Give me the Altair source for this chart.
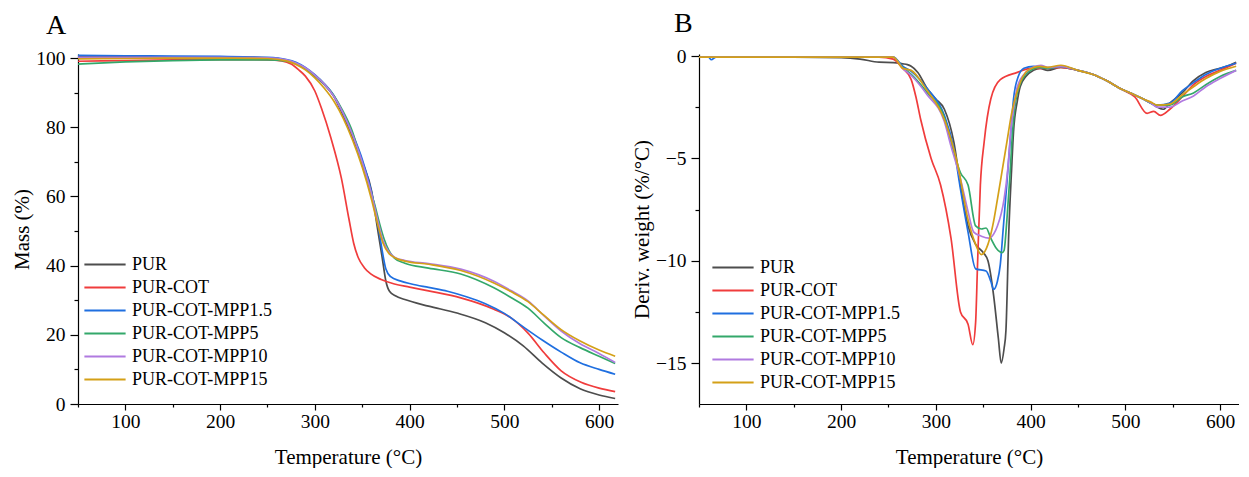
import altair as alt
import pandas as pd

names = ["PUR", "PUR-COT", "PUR-COT-MPP1.5", "PUR-COT-MPP5", "PUR-COT-MPP10", "PUR-COT-MPP15"]
colors = ["#4d4d4d", "#f03c3c", "#1f6fe0", "#33a86a", "#b07ae0", "#d4a017"]

# ---- TGA (panel A): temperature (°C) and mass (%) ----
tga_T_pur = [50,100,150,200,250,270,280,290,300,310,320,330,340,350,360,366,371,375,379,385,395,420,450,480,500,520,540,560,580,600,617]
tga_M_pur = [100.6,100.5,100.4,100.4,100.1,99.4,98.5,97.0,94.8,92.3,89.0,83.3,77.0,70.0,61.5,51.0,42.5,35.5,32.5,31.3,30.2,28.3,26.3,23.5,20.6,16.8,11.8,7.5,4.4,2.6,1.6]

tga_T_cot = [50,100,150,200,250,265,275,283,290,300,307,317,328,336,341,346,352,359,370,384,400,420,454,489,507,525,542,560,581,600,617]
tga_M_cot = [99.1,99.3,99.5,99.6,99.5,99.2,98.3,96.6,94.8,90.5,85.5,76.9,65.3,53.5,46.5,42.2,39.5,37.6,36.0,34.7,33.8,32.7,30.7,27.4,24.9,20.5,14.8,9.6,6.3,4.6,3.6]

tga_T_m15 = [50,100,150,200,250,270,280,290,300,310,320,330,340,350,360,366,371,375,380,390,402,420,440,460,480,500,520,540,560,580,600,617]
tga_M_m15 = [100.8,100.7,100.6,100.5,100.2,99.6,98.8,97.3,95.2,92.6,89.2,84.0,78.0,70.8,61.0,53.0,44.5,39.0,36.8,35.6,34.7,33.7,32.6,31.0,29.0,26.2,22.3,18.5,15.0,11.9,10.0,8.6]

tga_T_m5 = [50,100,150,200,250,270,280,290,300,310,320,330,340,349,356,363,368,373,378,384,395,420,454,489,507,525,542,560,580,600,617]
tga_M_m5 = [98.3,98.9,99.3,99.5,99.5,99.1,98.4,97.0,95.0,92.5,89.2,84.5,78.5,70.0,64.0,57.8,52.5,47.8,44.5,42.2,40.7,39.3,37.6,33.6,30.8,27.7,23.4,19.2,16.3,13.8,11.7]

tga_T_m10 = [50,100,150,200,250,270,280,290,300,310,320,330,340,350,360,366,372,378,385,395,420,454,489,507,525,542,560,580,600,617]
tga_M_m10 = [100.2,100.2,100.2,100.2,100.1,99.5,98.6,97.2,95.1,92.5,89.0,84.0,77.7,70.0,60.5,53.5,47.2,44.0,42.3,41.5,40.6,39.0,35.5,32.8,29.8,25.5,21.1,17.4,14.6,12.0]

tga_T_m15b = [50,100,150,200,250,270,280,290,300,310,320,330,340,350,360,366,372,378,385,395,420,454,489,507,525,542,560,580,600,617]
tga_M_m15b = [99.8,99.9,100.0,100.0,99.9,99.2,98.2,96.6,94.3,91.3,87.6,82.6,76.2,68.5,59.0,52.3,46.5,43.6,42.2,41.3,40.4,38.6,35.0,32.5,29.6,25.6,21.5,18.2,15.6,13.8]

# ---- DTG (panel B): temperature (°C) and derivative weight (%/°C) ----
dtg_T_pur = [50,100,150,200,220,240,255,265,270,274,281,291,300,309,319,326,334,342,350,355,361,366,369,372,374,377,380,382,386,389,395,403,410,418,432,450,466,480,495,510,519,527,534,540,547,560,572,585,600,610,617]
dtg_D_pur = [-0.05,-0.05,-0.05,-0.08,-0.15,-0.3,-0.32,-0.38,-0.42,-0.5,-0.8,-1.6,-2.1,-2.6,-4.2,-6.3,-8.3,-9.2,-9.6,-10.0,-11.7,-13.8,-15.0,-14.3,-13.4,-8.6,-5.5,-3.7,-2.2,-1.5,-1.0,-0.7,-0.6,-0.7,-0.55,-0.7,-0.9,-1.2,-1.6,-1.9,-2.1,-2.3,-2.5,-2.6,-2.3,-1.8,-1.2,-0.8,-0.6,-0.45,-0.3]

dtg_T_cot = [50,100,150,200,240,255,265,274,279,284,295,305,316,326,334,339,342,344,347,351,358,368,386,400,418,432,450,466,480,495,510,523,530,537,547,560,572,585,600,617]
dtg_D_cot = [-0.05,-0.05,-0.05,-0.05,-0.05,-0.15,-0.6,-1.15,-2.0,-3.1,-5.0,-6.3,-8.9,-12.5,-13.1,-14.1,-13.0,-10.2,-6.3,-4.2,-2.1,-1.15,-0.8,-0.6,-0.6,-0.55,-0.7,-0.9,-1.2,-1.6,-2.0,-2.8,-2.7,-2.9,-2.6,-2.0,-1.4,-1.0,-0.7,-0.35]

dtg_T_m15 = [50,60,63,68,100,150,200,240,255,265,274,291,309,319,326,334,342,353,358,361,365,368,371,375,379,382,387,393,403,418,432,450,466,480,495,510,519,527,534,547,560,572,585,600,617]
dtg_D_m15 = [-0.05,-0.05,-0.18,-0.05,-0.05,-0.05,-0.05,-0.05,-0.05,-0.5,-0.75,-1.6,-2.9,-4.5,-6.5,-8.6,-10.4,-10.5,-11.0,-11.4,-11.0,-10.2,-8.5,-6.2,-3.8,-2.1,-1.0,-0.6,-0.5,-0.6,-0.5,-0.7,-0.9,-1.2,-1.6,-1.9,-2.1,-2.3,-2.4,-2.3,-1.7,-1.3,-0.9,-0.6,-0.35]

dtg_T_m5 = [50,100,150,200,240,255,265,274,291,309,316,326,334,342,348,353,358,364,370,372,375,378,381,386,397,410,418,432,450,466,480,495,510,519,527,534,547,560,572,585,600,617]
dtg_D_m5 = [-0.05,-0.05,-0.05,-0.05,-0.05,-0.05,-0.55,-0.9,-1.8,-3.0,-4.2,-5.7,-6.3,-8.3,-8.45,-8.4,-8.9,-9.4,-9.6,-9.5,-8.0,-6.0,-3.7,-1.8,-0.8,-0.55,-0.6,-0.5,-0.7,-0.9,-1.2,-1.6,-1.9,-2.1,-2.3,-2.4,-2.4,-2.0,-1.8,-1.4,-1.0,-0.7]

dtg_T_m10 = [50,100,150,200,240,255,265,274,291,309,316,326,334,340,348,356,361,365,369,372,376,379,383,386,395,411,418,432,450,466,480,495,510,519,527,534,547,560,572,585,600,617]
dtg_D_m10 = [-0.05,-0.05,-0.05,-0.05,-0.05,-0.05,-0.6,-0.95,-1.9,-3.2,-4.4,-6.0,-7.6,-8.6,-8.8,-8.9,-8.7,-8.3,-7.7,-7.0,-5.5,-3.7,-2.3,-1.5,-0.8,-0.45,-0.55,-0.5,-0.7,-0.9,-1.2,-1.6,-1.9,-2.1,-2.3,-2.5,-2.5,-2.2,-1.95,-1.5,-1.1,-0.7]

dtg_T_m15b = [50,100,150,200,240,255,265,274,291,309,323,334,342,348,355,360,365,370,375,380,386,397,410,418,432,450,466,480,495,510,519,527,534,547,560,572,585,600,617]
dtg_D_m15b = [-0.05,-0.05,-0.05,-0.05,-0.05,-0.05,-0.6,-0.7,-1.7,-3.1,-5.3,-8.0,-9.2,-9.7,-9.2,-8.3,-7.0,-5.6,-4.2,-2.8,-1.7,-0.7,-0.5,-0.55,-0.45,-0.7,-0.9,-1.2,-1.6,-1.9,-2.1,-2.25,-2.4,-2.35,-1.9,-1.5,-1.1,-0.75,-0.5]

tga_sets = [(tga_T_pur, tga_M_pur), (tga_T_cot, tga_M_cot), (tga_T_m15, tga_M_m15),
            (tga_T_m5, tga_M_m5), (tga_T_m10, tga_M_m10), (tga_T_m15b, tga_M_m15b)]
dtg_sets = [(dtg_T_pur, dtg_D_pur), (dtg_T_cot, dtg_D_cot), (dtg_T_m15, dtg_D_m15),
            (dtg_T_m5, dtg_D_m5), (dtg_T_m10, dtg_D_m10), (dtg_T_m15b, dtg_D_m15b)]

def build(sets):
    rows = []
    for i, (name, (ts, vs)) in enumerate(zip(names, sets)):
        for t, v in zip(ts, vs):
            rows.append({"series": name, "idx": i, "T": t, "v": v})
    return pd.DataFrame(rows)

df_a = build(tga_sets)
df_b = build(dtg_sets)

FONT = "Liberation Serif"
x_ticks = list(range(50, 601, 50))

def x_axis():
    return alt.Axis(values=x_ticks,
                    labelExpr="datum.value % 100 === 0 ? datum.label : ''",
                    tickSize={"condition": {"test": "datum.value % 100 === 0", "value": 6}, "value": 3},
                    title="Temperature (°C)", titlePadding=16, labelPadding=2)

def legend(lx, ly):
    return alt.Legend(title=None, orient="none", legendX=lx, legendY=ly,
                      symbolType="stroke", symbolSize=1700, symbolStrokeWidth=2,
                      labelFont=FONT, labelFontSize=18, labelColor="black",
                      rowPadding=0, clipHeight=23, labelOffset=5, padding=0)

def panel_title(letter, dx):
    return alt.TitleParams(letter, anchor="start", frame="group", dx=dx, fontSize=28,
                           font=FONT, fontWeight="normal", color="black", offset=8)

left = alt.Chart(df_a).mark_line(strokeWidth=1.7, interpolate="monotone", clip=True).encode(
    x=alt.X("T:Q", scale=alt.Scale(domain=[50, 620], nice=False, zero=False), axis=x_axis()),
    y=alt.Y("v:Q", scale=alt.Scale(domain=[0, 101.2], nice=False),
            axis=alt.Axis(values=list(range(0, 101, 10)),
                          labelExpr="datum.value % 20 === 0 ? datum.label : ''",
                          tickSize={"condition": {"test": "datum.value % 20 === 0", "value": 8}, "value": 4},
                          title="Mass (%)", titlePadding=3, labelPadding=5)),
    color=alt.Color("series:N", scale=alt.Scale(domain=names, range=colors), legend=legend(5, 199)),
    order="idx:Q",
).properties(width=540, height=350, title=panel_title("A", -32))

right = alt.Chart(df_b).mark_line(strokeWidth=1.7, interpolate="monotone", clip=True).encode(
    x=alt.X("T:Q", scale=alt.Scale(domain=[50, 620], nice=False, zero=False), axis=x_axis()),
    y=alt.Y("v:Q", scale=alt.Scale(domain=[-17, 0.1], nice=False, zero=False),
            axis=alt.Axis(values=[0, -2.5, -5, -7.5, -10, -12.5, -15],
                          labelExpr="datum.value % 5 === 0 ? datum.label : ''",
                          tickSize={"condition": {"test": "datum.value % 5 === 0", "value": 8}, "value": 4},
                          title="Deriv. weight (%/°C)", titlePadding=3, labelPadding=5)),
    color=alt.Color("series:N", scale=alt.Scale(domain=names, range=colors), legend=legend(12, 202)),
    order="idx:Q",
).properties(width=540, height=350, title=panel_title("B", -25))

chart = alt.hconcat(left, right, spacing=13).resolve_scale(color="independent").resolve_legend(
    color="independent"
).configure_view(stroke=None).configure_axis(
    grid=False, domainColor="black", domainWidth=1.2, tickColor="black", tickWidth=1.2,
    labelFont=FONT, labelFontSize=19.5, labelColor="black",
    titleFont=FONT, titleFontSize=21, titleFontWeight="normal", titleColor="black",
    labelOverlap=False, labelFlush=False,
).properties(padding={"left": 3, "top": 2, "right": 0, "bottom": 0})

chart.save("out.html", embed_options={"renderer": "svg", "actions": False})
